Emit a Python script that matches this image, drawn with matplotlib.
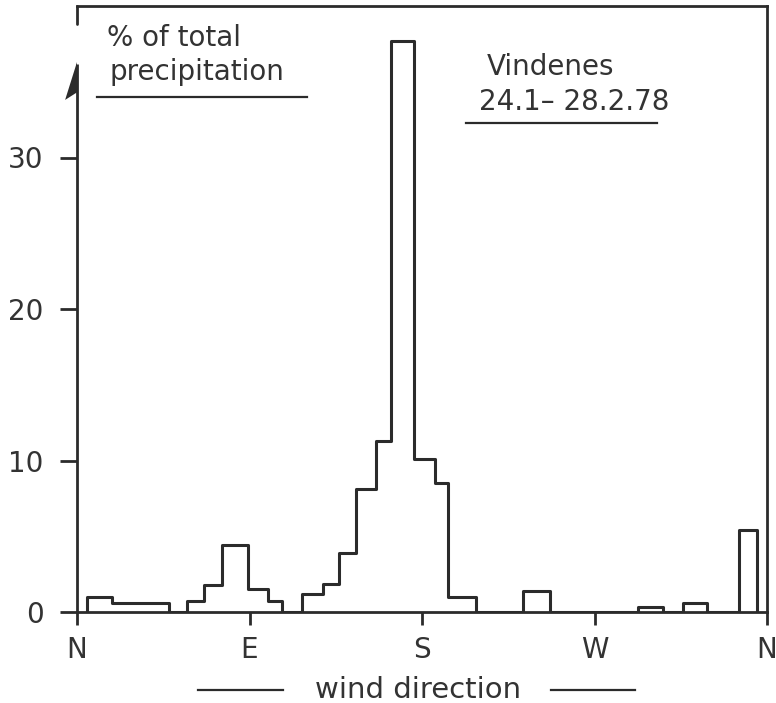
import matplotlib
matplotlib.use("Agg")
import matplotlib.pyplot as plt
from matplotlib.lines import Line2D

# wind direction bins (degrees from N) and share of total precipitation (%)
bin_edges = [5.2, 18.3, 48.0, 57.4, 66.2, 75.6, 89.2, 99.6, 106.9, 117.4,
             128.3, 136.7, 145.5, 156.0, 163.8, 175.8, 186.7, 193.5, 208.0,
             232.7, 246.7, 292.6, 305.7, 316.3, 328.6, 345.3, 354.7]
precip_pct = [1.0, 0.6, 0.0, 0.75, 1.8, 4.4, 1.5, 0.7, 0.0,
              1.2, 1.85, 3.9, 8.1, 11.3, 37.7, 10.1, 8.5, 1.0, 0.0,
              1.4, 0.0, 0.3, 0.0, 0.6, 0.0, 5.4]

dir_ticks = [0, 90, 180, 270, 360]
dir_labels = ["N", "E", "S", "W", "N"]
pct_ticks = [0, 10, 20, 30]

ink = "#2b2b2b"
W, H = 776, 703

plt.rcParams["font.family"] = ["DejaVu Sans"]

fig = plt.figure(figsize=(W / 100, H / 100), dpi=100)
ax = fig.add_axes([77 / W, (H - 612) / H, 690 / W, 606 / H])

ax.stairs(precip_pct, bin_edges, baseline=0, color=ink, linewidth=2.2,
          joinstyle="round")

ax.set_xlim(0, 360)
ax.set_ylim(0, 40)

for s in ["top", "right", "bottom"]:
    ax.spines[s].set_color(ink)
    ax.spines[s].set_linewidth(2.0)
ax.spines["left"].set_visible(False)

# left axis with arrow, broken near the top
ax.plot([0, 0], [0, 36.2], color=ink, lw=2.0, clip_on=False, solid_capstyle="butt")
ax.plot([0, 0], [38.8, 40], color=ink, lw=2.0, clip_on=False, solid_capstyle="round")
ax.fill([0, -6.2, 0], [36.3, 33.8, 34.3], color=ink, clip_on=False, lw=0)

ax.set_xticks(dir_ticks, dir_labels)
ax.set_yticks(pct_ticks, [str(v) for v in pct_ticks])
ax.tick_params(axis="y", direction="out", length=12, width=2.0, color=ink,
               labelsize=20, labelcolor="#333333", pad=12)
ax.tick_params(axis="x", direction="out", length=9, width=2.0, color=ink,
               labelsize=20, labelcolor="#333333", pad=8)


def px(x, y):
    return x / W, 1 - y / H


def fig_line(x0, x1, y):
    a, b = px(x0, y)
    c, _ = px(x1, y)
    fig.add_artist(Line2D([a, c], [b, b], color=ink, lw=1.6))


txt = dict(fontsize=20, color="#333333", va="baseline", ha="left")
fig.text(*px(107, 46), "% of total", **txt)
fig.text(*px(110, 80), "precipitation", **txt)
fig_line(97, 307, 97)

fig.text(*px(487, 75), "Vindenes", **txt)
fig.text(*px(479, 110), "24.1\u2013 28.2.78", **txt)
fig_line(466, 657, 123)

fig.text(*px(418, 698), "wind direction", fontsize=21, color="#333333",
         va="baseline", ha="center")
fig_line(198, 283, 690)
fig_line(551, 635, 690)

fig.savefig("out.png", dpi=100)
